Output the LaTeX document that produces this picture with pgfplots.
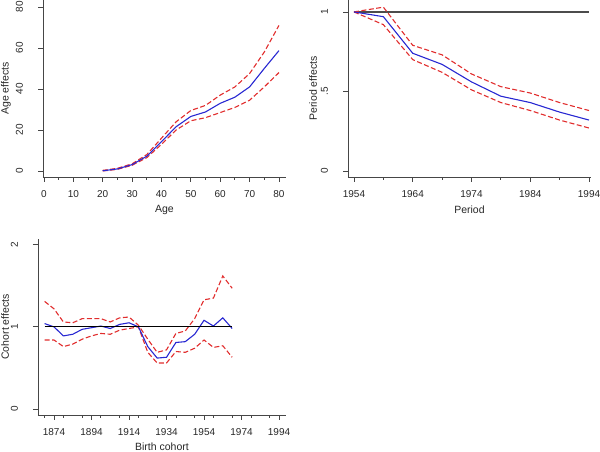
\documentclass[border=0pt]{standalone}
\usepackage{fontspec}
\setmainfont{Liberation Sans}
\usepackage{pgfplots}
\pgfplotsset{compat=1.18}
\definecolor{sblue}{RGB}{40,40,210}
\definecolor{sred}{RGB}{225,45,45}
\definecolor{axgray}{RGB}{70,70,70}
\pgfplotsset{
  stata/.style={
    scale only axis,
    anchor=south west,
    axis x line*=bottom,
    axis y line*=left,
    axis line style={draw=axgray, line width=0.9pt, -},
    tick align=outside,
    tick style={draw=axgray, line width=0.8pt},
    major tick length=5pt,
    minor tick length=3pt,
    /pgf/number format/assume math mode=true,
    /pgf/number format/1000 sep={},
    tick label style={font=\fontsize{10}{12}\selectfont, text=black!85},
    label style={font=\fontsize{10.5}{12}\selectfont, text=black!85},
    xticklabel style={anchor=center, yshift=-12pt},
    yticklabel style={anchor=center, xshift=-18.5pt, rotate=90},
    clip=false,
  },
  est/.style={draw=sblue, line width=1.1pt, no marks},
  ci/.style={draw=sred, line width=1.1pt, no marks, dash pattern=on 5pt off 2.5pt},
}
\begin{document}
\begin{tikzpicture}[x=1pt,y=1pt]
\useasboundingbox (0,0) rectangle (600,452);
% ---------------- Age ----------------
\begin{axis}[stata, at={(43pt,275pt)}, width=243pt, height=177pt,
  xmin=-0.34, xmax=82.4, ymin=-2.93, ymax=83.4,
  xtick={0,10,...,80}, minor xtick={5,15,...,75},
  ytick={0,20,40,60,80},
  xlabel={Age}, ylabel={Age effects},
  xlabel style={at={(axis description cs:0.5,0)}, anchor=center, yshift=-33pt},
  ylabel style={at={(axis description cs:0,0.5)}, anchor=center, yshift=37pt},
]
\addplot[ci] coordinates {(20,0.3)(25,1.3)(30,3.5)(35,8)(40,16)(45,24)(50,29.5)(55,32)(60,37)(65,41)(70,47.5)(75,58)(80,71)};
\addplot[ci] coordinates {(20,0)(25,0.8)(30,2.8)(35,6.5)(40,13)(45,20)(50,24.5)(55,26)(60,28.5)(65,31)(70,34.5)(75,41)(80,48)};
\addplot[est] coordinates {(20,0.1)(25,1)(30,3.1)(35,7.2)(40,14.3)(45,21.6)(50,26.6)(55,28.8)(60,33)(65,36)(70,41)(75,50)(80,58.7)};
\end{axis}
% ---------------- Period ----------------
\begin{axis}[stata, at={(348pt,275pt)}, width=243pt, height=177pt,
  xmin=1952.98, xmax=1994.34, ymin=-0.038, ymax=1.075,
  xtick={1954,1964,...,1994}, minor xtick={1959,1969,...,1989},
  ytick={0,0.5,1}, yticklabels={0,.5,1},
  xlabel={Period}, ylabel={Period effects},
  xlabel style={at={(axis description cs:0.5,0)}, anchor=center, yshift=-33pt},
  ylabel style={at={(axis description cs:0,0.5)}, anchor=center, yshift=35pt},
]
\addplot[draw=black!70, line width=1.2pt, no marks] coordinates {(1954,1)(1994,1)};
\addplot[ci] coordinates {(1954,1)(1959,1.03)(1964,0.79)(1969,0.73)(1974,0.61)(1979,0.53)(1984,0.49)(1989,0.43)(1994,0.38)};
\addplot[ci] coordinates {(1954,1)(1959,0.92)(1964,0.70)(1969,0.62)(1974,0.51)(1979,0.43)(1984,0.38)(1989,0.32)(1994,0.27)};
\addplot[est] coordinates {(1954,1)(1959,0.97)(1964,0.74)(1969,0.67)(1974,0.56)(1979,0.47)(1984,0.43)(1989,0.37)(1994,0.32)};
\end{axis}
% ---------------- Cohort ----------------
\begin{axis}[stata, at={(38pt,37pt)}, width=248pt, height=176pt,
  xmin=1865.47, xmax=1997.7, ymin=-0.073, ymax=2.07,
  xtick={1874,1894,...,1994}, minor xtick={1869,1879,...,1989},
  ytick={0,1,2},
  xlabel={Birth cohort}, ylabel={Cohort effects},
  xlabel style={at={(axis description cs:0.5,0)}, anchor=center, yshift=-32pt},
  ylabel style={at={(axis description cs:0,0.5)}, anchor=center, yshift=33pt},
]
\addplot[ci] coordinates {(1869,1.31)(1874,1.22)(1879,1.06)(1884,1.05)(1889,1.10)(1894,1.10)(1899,1.10)(1904,1.06)(1909,1.11)(1914,1.12)(1919,1.02)(1924,0.85)(1929,0.69)(1934,0.72)(1939,0.92)(1944,0.95)(1949,1.10)(1954,1.33)(1959,1.35)(1964,1.62)(1969,1.47)};
\addplot[ci] coordinates {(1869,0.84)(1874,0.84)(1879,0.76)(1884,0.79)(1889,0.85)(1894,0.89)(1899,0.92)(1904,0.91)(1909,0.96)(1914,0.98)(1919,1.00)(1924,0.69)(1929,0.56)(1934,0.56)(1939,0.70)(1944,0.69)(1949,0.74)(1954,0.84)(1959,0.75)(1964,0.77)(1969,0.63)};
\addplot[est] coordinates {(1869,1.04)(1874,1.00)(1879,0.89)(1884,0.91)(1889,0.97)(1894,0.99)(1899,1.01)(1904,0.98)(1909,1.03)(1914,1.05)(1919,1.00)(1924,0.76)(1929,0.62)(1934,0.63)(1939,0.81)(1944,0.82)(1949,0.91)(1954,1.08)(1959,1.01)(1964,1.11)(1969,0.98)};
\addplot[draw=black, line width=1.1pt, no marks] coordinates {(1869,1)(1969,1)};
\end{axis}
\end{tikzpicture}
\end{document}
